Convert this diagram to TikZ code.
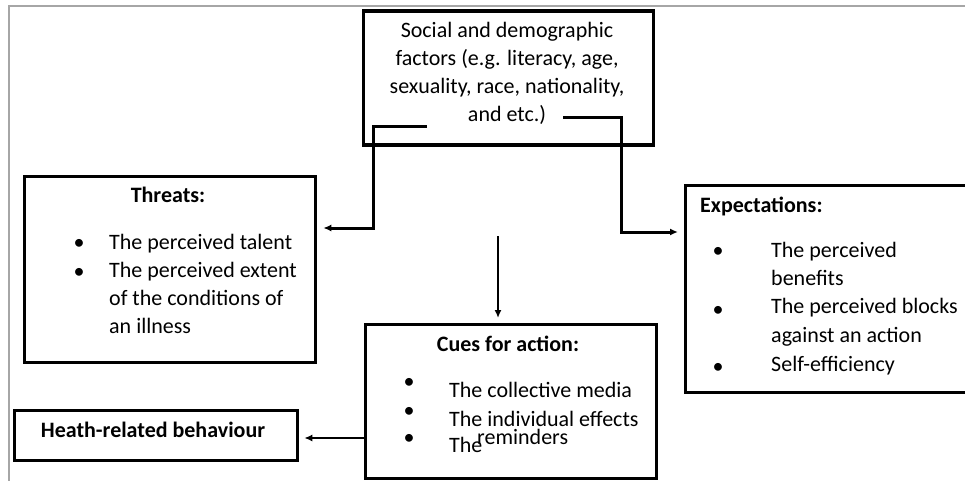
\documentclass[tikz,border=0pt]{standalone}
\usepackage{fontspec}
\setmainfont{Carlito}
\usetikzlibrary{arrows.meta}
\tikzset{
  box/.style={draw, line width=3.3pt, inner sep=0pt, anchor=north west},
  conn/.style={line width=3pt, -{Latex[length=8pt,width=7pt]}, shorten >=6pt},
  thinconn/.style={line width=2.5pt, -{Latex[length=8pt,width=7pt]}, shorten >=5pt},
  txt/.style={inner sep=0pt, font=\fontsize{22}{28}\selectfont},
  ttl/.style={inner sep=0pt, font=\fontsize{22}{28}\selectfont\bfseries},
  frame/.style={draw=gray!70, line width=1.2pt}
}
\begin{document}
\begin{tikzpicture}[x=1pt,y=-1pt]
\clip (0,0) rectangle (965,481);
\fill[white] (0,0) rectangle (965,481);
\draw[frame] (9,481) -- (9,6) -- (965,6);

% boxes
\node[box, minimum width=290pt, minimum height=134pt] (social) at (362,9.5) {};
\node[box, minimum width=291pt, minimum height=186pt] (threats) at (23,175) {};
\node[box, minimum width=300pt, minimum height=207pt] (expect) at (684,184) {};
\node[box, minimum width=291pt, minimum height=154pt] (cues) at (364,323) {};
\node[box, minimum width=283pt, minimum height=50pt] (heath) at (13,409) {};

% social text
\node[txt, anchor=base] (s1) at (507,38) {Social and demographic};
\node[txt, anchor=base] (s2) at (507,66) {factors (e.g. literacy, age,};
\node[txt, anchor=base] (s3) at (507,94) {sexuality, race, nationality,};
\node[txt, anchor=base] (s4) at (507,122) {and etc.)};

% threats text
\node[ttl, anchor=base] (tt) at (168,202) {Threats:};
\node[txt, anchor=base] (tb1) at (79,249) {•};
\node[txt, anchor=base] (tb2) at (79,278) {•};
\node[txt, anchor=base west] (t1) at (109,249) {The perceived talent};
\node[txt, anchor=base west] (t2) at (109,277) {The perceived extent};
\node[txt, anchor=base west] (t3) at (109,305) {of the conditions of};
\node[txt, anchor=base west] (t4) at (109,333) {an illness};

% expectations text
\node[ttl, anchor=base west] (et) at (700,212) {Expectations:};
\node[txt, anchor=base] (eb1) at (718,257) {•};
\node[txt, anchor=base] (eb2) at (718,316) {•};
\node[txt, anchor=base] (eb3) at (718,373) {•};
\node[txt, anchor=base west] (e1) at (771,257) {The perceived};
\node[txt, anchor=base west] (e2) at (771,285) {benefits};
\node[txt, anchor=base west] (e3) at (771,313) {The perceived blocks};
\node[txt, anchor=base west] (e4) at (771,342) {against an action};
\node[txt, anchor=base west] (e5) at (771,371) {Self-efficiency};

% cues text
\node[ttl, anchor=base] (ct) at (508,351) {Cues for action:};
\node[txt, anchor=base] (cb1) at (409,388) {•};
\node[txt, anchor=base] (cb2) at (409,417) {•};
\node[txt, anchor=base] (cb3) at (409,444) {•};
\node[txt, anchor=base west] (c1) at (449,397) {The collective media};
\node[txt, anchor=base west] (c2) at (449,426) {The individual effects};
\node[txt, anchor=base west] (c3) at (449,452) {The};
\node[txt, anchor=base west] (c4) at (477,444) {reminders};

% heath text
\node[ttl, anchor=base] (ht) at (153,437) {Heath-related behaviour};

% connectors
\coordinate (sL) at (427,127);
\coordinate (tL) at (373,228);
\coordinate (sR) at (563,118);
\coordinate (eR) at (621,232);
\coordinate (vT) at (498,236);
\coordinate (hA) at (364,438);
\draw[conn] (sL) -| (tL) -- (tL -| threats.east);
\draw[conn] (sR) -| (eR) -- (eR -| expect.west);
\draw[thinconn] (vT) -- (vT |- cues.north);
\draw[thinconn] (hA) -- (hA -| heath.east);
\end{tikzpicture}
\end{document}
